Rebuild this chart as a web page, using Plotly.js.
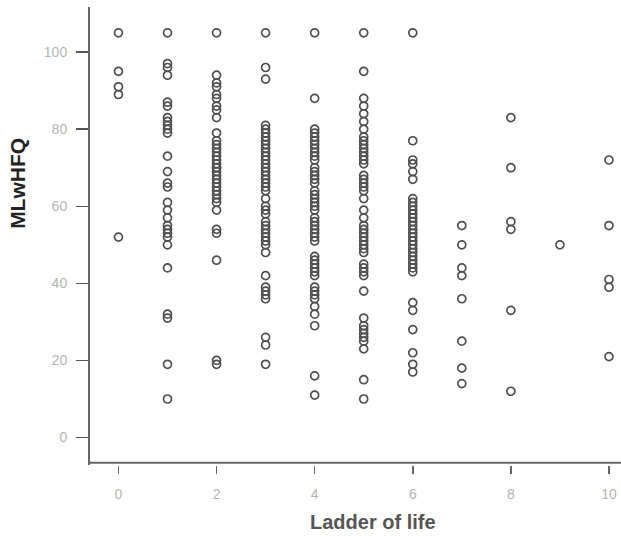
<!DOCTYPE html>
<html>
<head>
<meta charset="utf-8">
<script src="https://cdn.plot.ly/plotly-3.0.1.min.js"></script>
<style>
  html, body { margin: 0; padding: 0; background: #ffffff; }
  #chart { width: 621px; height: 536px; }
</style>
</head>
<body>
<div id="chart"></div>
<script>
// Ladder of life rungs (x) and MLwHFQ scores observed at each rung (y)
const ladderLevels = [0, 1, 2, 3, 4, 5, 6, 7, 8, 9, 10];

const mlwhfqAt0 = [105, 95, 91, 89, 52];
const mlwhfqAt1 = [105, 97, 96, 94, 87, 86, 83, 82, 81, 80, 79, 73, 69, 66, 65, 61, 59, 57, 55, 54, 53, 52, 50, 44, 32, 31, 19, 10];
const mlwhfqAt2 = [105, 94, 92, 91, 89, 88, 86, 85, 83, 79, 77, 76, 75, 74, 73, 72, 71, 70, 70, 69, 68, 67, 66, 65, 64, 63, 62, 61, 59, 54, 53, 46, 20, 19];
const mlwhfqAt3 = [105, 96, 93, 81, 80, 79, 78, 77, 76, 75, 74, 73, 72, 71, 70, 69, 68, 67, 66, 65, 64, 62, 60, 59, 58, 56, 55, 54, 53, 52, 51, 50, 48, 42, 39, 38, 37, 36, 26, 24, 19];
const mlwhfqAt4 = [105, 88, 80, 79, 78, 77, 76, 75, 74, 73, 72, 70, 69, 68, 67, 66, 64, 63, 62, 61, 60, 59, 57, 56, 55, 54, 53, 52, 51, 47, 46, 45, 44, 43, 42, 39, 38, 37, 36, 34, 32, 29, 16, 11];
const mlwhfqAt5 = [105, 95, 88, 86, 84, 82, 80, 78, 77, 76, 75, 74, 73, 72, 71, 68, 67, 66, 65, 64, 62, 59, 57, 55, 54, 53, 52, 51, 50, 49, 48, 45, 44, 43, 42, 38, 31, 29, 28, 27, 26, 25, 23, 15, 10];
const mlwhfqAt6 = [105, 77, 72, 71, 69, 67, 62, 61, 60, 59, 58, 57, 56, 55, 54, 53, 52, 51, 50, 49, 48, 47, 46, 45, 44, 43, 35, 33, 28, 22, 19, 17];
const mlwhfqAt7 = [55, 50, 44, 42, 36, 25, 18, 14];
const mlwhfqAt8 = [83, 70, 56, 54, 33, 12];
const mlwhfqAt9 = [50];
const mlwhfqAt10 = [72, 55, 41, 39, 21];

const scoresByLevel = [mlwhfqAt0, mlwhfqAt1, mlwhfqAt2, mlwhfqAt3, mlwhfqAt4, mlwhfqAt5,
                       mlwhfqAt6, mlwhfqAt7, mlwhfqAt8, mlwhfqAt9, mlwhfqAt10];

const xTickVals = [0, 2, 4, 6, 8, 10];
const yTickVals = [0, 20, 40, 60, 80, 100];

// Flatten to one point per respondent
const xs = [];
const ys = [];
ladderLevels.forEach((lvl, i) => {
  scoresByLevel[i].forEach(v => { xs.push(lvl); ys.push(v); });
});

const trace = {
  type: 'scatter',
  mode: 'markers',
  x: xs,
  y: ys,
  marker: {
    symbol: 'circle-open',
    size: 8,
    color: '#4f4f4f',
    line: { color: '#4f4f4f', width: 1.7 }
  },
  hoverinfo: 'x+y',
  cliponaxis: false
};

const tickFont = { family: 'Liberation Sans, Arial, sans-serif', size: 14, color: '#b4b4b4' };

const layout = {
  width: 621,
  height: 536,
  margin: { l: 90, r: 0, t: 7, b: 71, pad: 0 },
  paper_bgcolor: '#ffffff',
  plot_bgcolor: '#ffffff',
  showlegend: false,
  xaxis: {
    range: [-0.58, 10.245],
    tickvals: xTickVals,
    ticktext: xTickVals.map(String),
    ticks: 'outside',
    ticklen: 8,
    tickwidth: 1.5,
    tickcolor: '#666666',
    ticklabelstandoff: 8,
    tickfont: tickFont,
    showline: false,
    showgrid: false,
    zeroline: false
  },
  yaxis: {
    range: [-7.13, 111.7],
    tickvals: yTickVals,
    ticktext: yTickVals.map(String),
    ticks: 'outside',
    ticklen: 12,
    tickwidth: 1.5,
    tickcolor: '#555555',
    ticklabelstandoff: 6,
    tickfont: tickFont,
    showline: true,
    linecolor: '#666666',
    linewidth: 2,
    showgrid: false,
    zeroline: false
  },
  shapes: [
    // horizontal axis line, drawn slightly above the tick row
    {
      type: 'line', xref: 'paper', yref: 'paper',
      x0: 0, x1: 1, y0: 0.005, y1: 0.005,
      line: { color: '#666666', width: 2 }
    }
  ],
  annotations: [
    {
      text: 'Ladder of life',
      xref: 'paper', yref: 'paper',
      x: 0.533, y: -0.1245,
      xanchor: 'center', yanchor: 'middle',
      showarrow: false,
      font: { family: 'Liberation Sans, Arial, sans-serif', size: 20, color: '#555555', weight: 'bold' }
    },
    {
      text: 'MLwHFQ',
      xref: 'paper', yref: 'paper',
      x: -0.1356, y: 0.616,
      xanchor: 'center', yanchor: 'middle',
      textangle: -90,
      showarrow: false,
      font: { family: 'Liberation Sans, Arial, sans-serif', size: 21, color: '#222222', weight: 'bold' }
    }
  ]
};

Plotly.newPlot('chart', [trace], layout, { displayModeBar: false, staticPlot: true });
</script>
</body>
</html>
